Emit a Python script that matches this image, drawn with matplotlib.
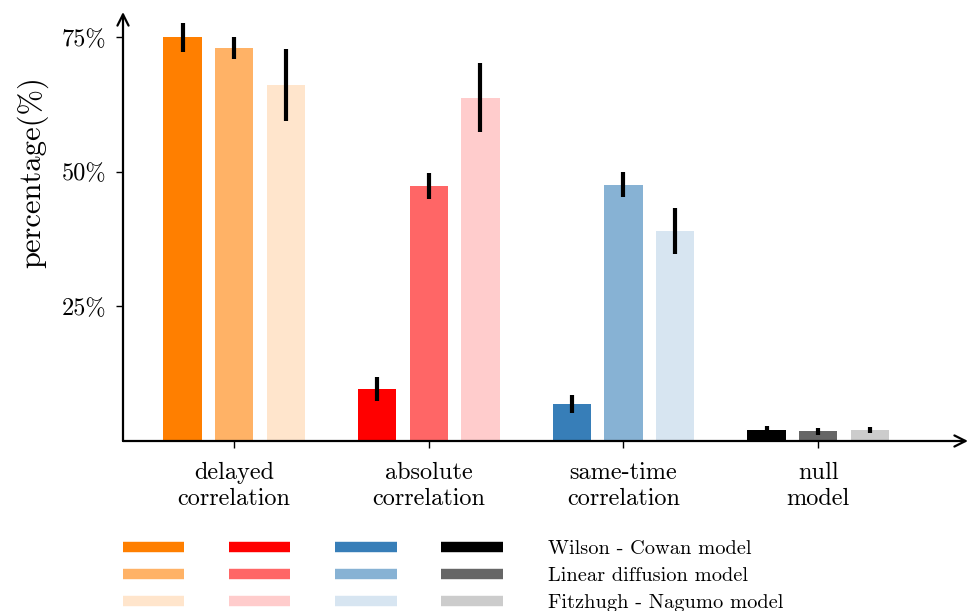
import matplotlib
matplotlib.use("Agg")
import matplotlib.pyplot as plt
from matplotlib.lines import Line2D
import numpy as np

plt.rcParams['font.family'] = 'cmr10'
plt.rcParams['mathtext.fontset'] = 'cm'
plt.rcParams['axes.unicode_minus'] = False

# data (percent)
groups = ["delayed\ncorrelation", "absolute\ncorrelation", "same-time\ncorrelation", "null\nmodel"]
models = ["Wilson - Cowan model", "Linear diffusion model", "Fitzhugh - Nagumo model"]

wilson_cowan = [75.0, 9.7, 6.9, 2.0]
wilson_cowan_err = [2.7, 2.2, 1.7, 0.8]
linear_diffusion = [73.0, 47.4, 47.6, 1.8]
linear_diffusion_err = [2.1, 2.4, 2.3, 0.6]
fitzhugh_nagumo = [66.2, 63.8, 39.0, 2.0]
fitzhugh_nagumo_err = [6.7, 6.4, 4.3, 0.6]

yticks = [25, 50, 75]
ytick_labels = ["25%", "50%", "75%"]

# one base colour per group, three shades (full, 0.6, 0.2 over white)
base_colors = ["#ff7f00", "#ff0000", "#377eb8", "#000000"]
shades = [1.0, 0.6, 0.2]


def shade(hexcol, a):
    c = np.array(matplotlib.colors.to_rgb(hexcol))
    return tuple(a * c + (1 - a) * 1.0)


values = [wilson_cowan, linear_diffusion, fitzhugh_nagumo]
errors = [wilson_cowan_err, linear_diffusion_err, fitzhugh_nagumo_err]

fig = plt.figure(figsize=(9.71, 6.11), dpi=100)
ax = fig.add_axes([123 / 971, 1 - 441 / 611, (968 - 123) / 971, (441 - 12) / 611])

x = np.arange(len(groups))
offset = 0.265
width = 0.197

for m in range(3):
    cols = [shade(base_colors[g], shades[m]) for g in range(len(groups))]
    ax.bar(x + (m - 1) * offset, values[m], width, color=cols, zorder=2)
    ax.errorbar(x + (m - 1) * offset, values[m], yerr=errors[m], fmt='none',
                ecolor='black', elinewidth=3, capsize=0, zorder=3)

ax.set_xlim(-0.571, 3.77)
ax.set_ylim(0, 79.7)
ax.set_xticks(x)
ax.set_xticklabels(groups, fontsize=17.5, linespacing=1.2)
ax.set_yticks(yticks)
ax.set_yticklabels(ytick_labels, fontsize=17.5)
ax.tick_params(axis='y', direction='out', length=5, width=1, pad=7)
ax.tick_params(axis='x', direction='out', length=5, width=1, pad=10)
ax.set_ylabel("percentage(%)", fontsize=22)
ax.yaxis.set_label_coords(-0.088, 0.628)

for s in ax.spines.values():
    s.set_visible(False)
ax.annotate("", xy=(1, 0), xytext=(0, 0), xycoords='axes fraction',
            arrowprops=dict(arrowstyle='->', lw=1.6, color='black',
                            shrinkA=0, shrinkB=0, mutation_scale=20))
ax.annotate("", xy=(0, 1), xytext=(0, 0), xycoords='axes fraction',
            arrowprops=dict(arrowstyle='->', lw=1.6, color='black',
                            shrinkA=0, shrinkB=0, mutation_scale=20))

# legend: four columns of colour swatches, labels only on the last column
handles = []
labels = []
for g in range(len(groups)):
    for m in range(3):
        handles.append(Line2D([], [], color=shade(base_colors[g], shades[m]), lw=7.5,
                              solid_capstyle='butt'))
        labels.append(models[m] if g == len(groups) - 1 else "")

fig.legend(handles, labels, ncol=4, loc='upper left', bbox_to_anchor=(123 / 971, 1 - 540 / 611),
           frameon=False, fontsize=14.7, handlelength=3.0, handletextpad=2.2,
           columnspacing=0.0, labelspacing=0.43, borderaxespad=0, borderpad=0)

fig.savefig("out.png", dpi=100)
